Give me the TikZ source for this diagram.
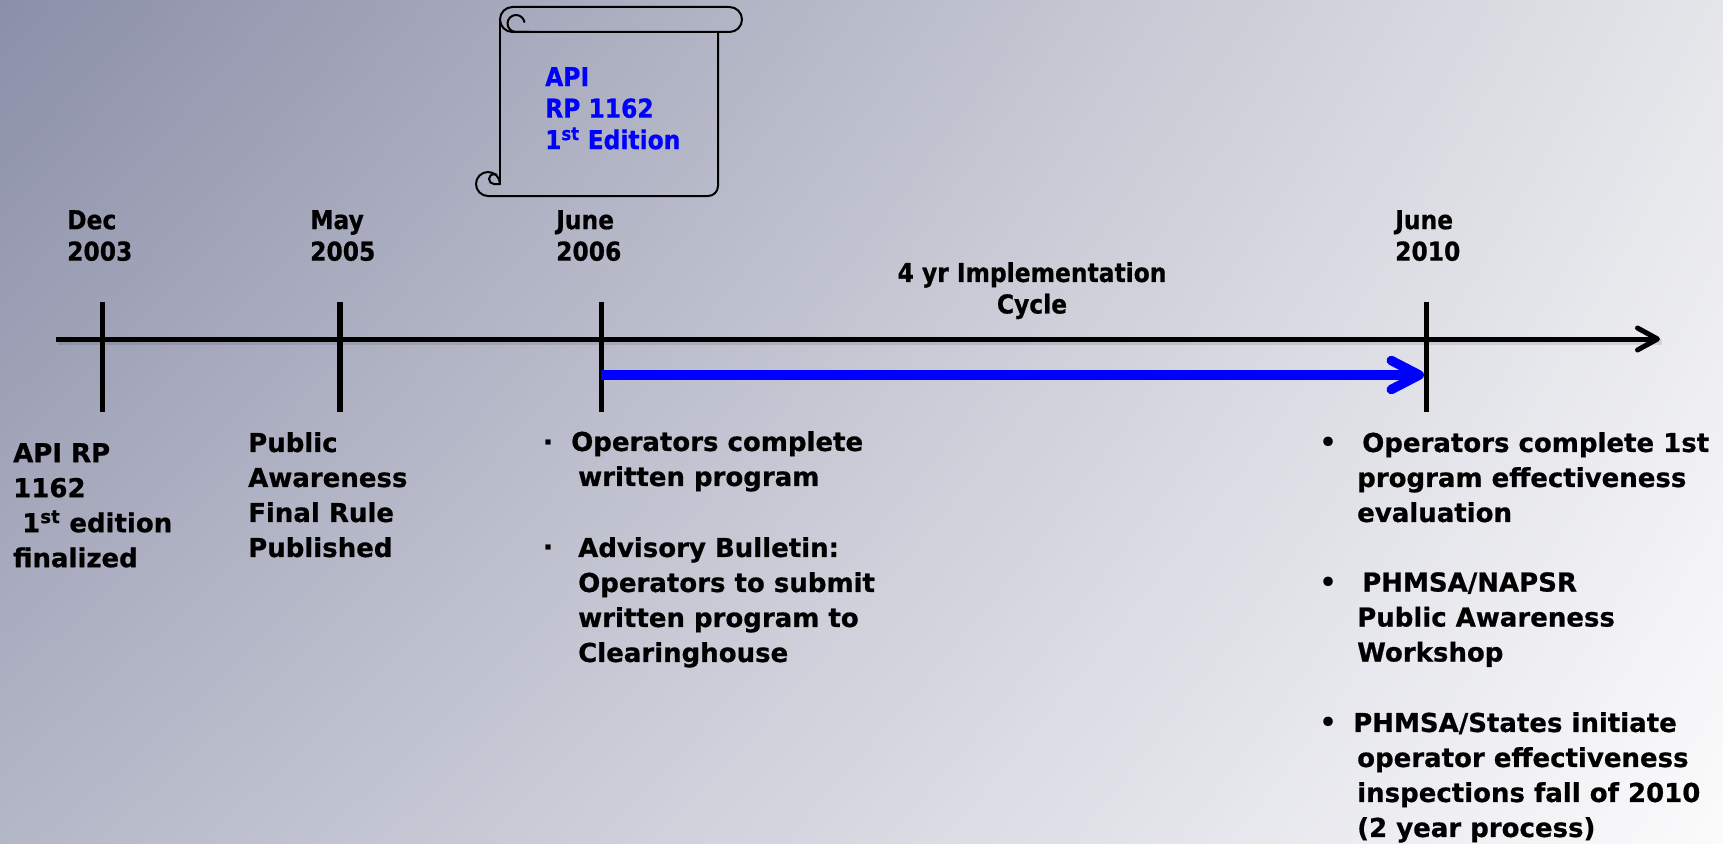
\documentclass[tikz,border=0pt]{standalone}
\usepackage{fontspec}
\setmainfont{DejaVu Sans}[BoldFeatures={FakeBold=0.7}]
\newfontfamily\condfont{DejaVu Sans}[FakeStretch=0.9, BoldFeatures={FakeBold=0.7}]
\usetikzlibrary{arrows.meta,shadings}
\definecolor{bgUL}{HTML}{8B8FA8}
\definecolor{bgUR}{HTML}{E5E6EA}
\definecolor{bgLL}{HTML}{B4B7C7}
\definecolor{bgLR}{HTML}{FBFBFC}
\definecolor{rpblue}{RGB}{0,0,255}
\begin{document}
\begin{tikzpicture}[x=1pt,y=-1pt,
  widetext/.style={inner sep=0pt, anchor=north west, align=left, font=\bfseries\fontsize{26}{35}\selectfont},
  condtext/.style={inner sep=0pt, anchor=north west, align=left, font=\condfont\bfseries\fontsize{26}{31.5}\selectfont},
  bulletmark/.style={inner sep=0pt, anchor=base, font=\bfseries\fontsize{26}{35}\selectfont},
  tickline/.style={line width=5.5pt},
  axisline/.style={line width=5pt, -{Straight Barb[round,length=20pt,width=22pt]}},
  axisshadow/.style={line width=6pt, black, opacity=0.10},
  cycleline/.style={line width=9.5pt, rpblue, -{Straight Barb[round,length=28pt,width=29pt]}},
  scrollline/.style={line width=2pt, line join=round, line cap=round}]
\useasboundingbox (0,0) rectangle (1723,843);
\shade[upper left=bgUL, upper right=bgUR, lower left=bgLL, lower right=bgLR] (0,0) rectangle (1723,843);

% scroll
\draw[scrollline] (512.5,7) -- (729.5,7) arc[start angle=270, end angle=450, radius=12.5] -- (512.5,32);
\draw[scrollline] (512.5,32) arc[start angle=90, end angle=270, radius=12.5];
\draw[scrollline] (530,32) -- (516,32) arc[start angle=90, end angle=350, radius=8.5];
\draw[scrollline] (500,19.5) -- (500,184);
\draw[scrollline] (718,32) -- (718,186) arc[start angle=0, end angle=90, radius=10] -- (488,196) arc[start angle=90, end angle=360, radius=12];
\draw[scrollline] (500,184) -- (494,184) arc[start angle=90, end angle=300, radius=5];
\node[condtext, text=rpblue] (scrolltxt) at (545,67) {API\\RP 1162\\1\textsuperscript{st} Edition};

% timeline
\coordinate (axs) at (56,339);
\coordinate (axe) at (1660,339);
\draw[axisshadow, transform canvas={shift={(2pt,-3pt)}}] (axs) -- (axe);
\draw[axisline] (axs) -- (axe);
\coordinate (t1a) at (102.7,302); \coordinate (t1b) at (102.7,412);
\coordinate (t2a) at (340,302);   \coordinate (t2b) at (340,412);
\coordinate (t3a) at (601.3,302); \coordinate (t3b) at (601.3,412);
\coordinate (t4a) at (1426.7,302); \coordinate (t4b) at (1426.7,412);
\draw[tickline] (t1a) -- (t1b);
\draw[tickline] (t2a) -- (t2b);
\draw[tickline] (t3a) -- (t3b);
\draw[tickline] (t4a) -- (t4b);
\coordinate (bs) at (601.3,375);
\coordinate (be) at (1424,375);
\draw[cycleline] (bs) -- (be);

% date labels
\node[condtext] (d1) at (67,210) {Dec\\2003};
\node[condtext] (d2) at (310,210) {May\\2005};
\node[condtext] (d3) at (556,210) {June\\2006};
\node[condtext] (d4) at (1395,210) {June\\2010};
\node[condtext, align=center, anchor=north] (cyc) at (1032,262) {4 yr Implementation\\Cycle};

% bottom labels
\node[widetext] (b1) at (13,443) {API RP\\1162\\\hspace*{9pt}1\textsuperscript{st} edition\\finalized};
\node[widetext] (b2) at (248,432) {Public\\Awareness\\Final Rule\\Published};
\node[bulletmark] (m1) at (548,451) {·};
\node[widetext] (c1) at (571,431) {Operators complete\\\hspace*{7pt}written program};
\node[bulletmark] (m2) at (548,556) {·};
\node[widetext] (c2) at (578,537) {Advisory Bulletin:\\Operators to submit\\written program to\\Clearinghouse};
\node[bulletmark] (m3) at (1328,451) {•};
\node[widetext] (e1) at (1357,432) {\hspace*{5pt}Operators complete 1st\\program effectiveness\\evaluation};
\node[bulletmark] (m4) at (1328,591) {•};
\node[widetext] (e2) at (1357,572) {\hspace*{5pt}PHMSA/NAPSR\\Public Awareness\\Workshop};
\node[bulletmark] (m5) at (1328,731) {•};
\node[widetext] (e3) at (1353,712) {PHMSA/States initiate\\\hspace*{4pt}operator effectiveness\\\hspace*{4pt}inspections fall of 2010\\\hspace*{4pt}(2 year process)};
\end{tikzpicture}
\end{document}
